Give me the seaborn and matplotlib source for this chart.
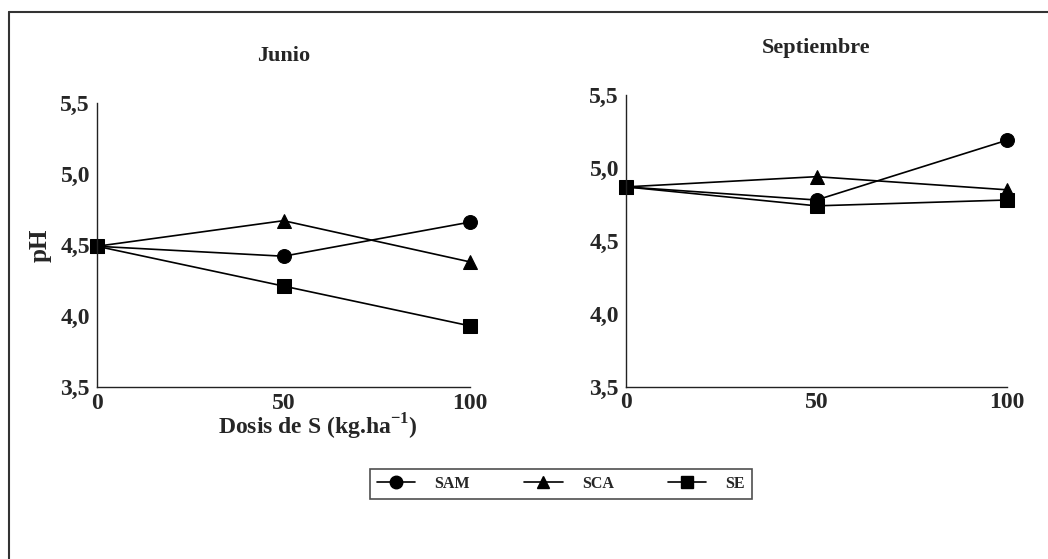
import matplotlib
matplotlib.use("Agg")
import matplotlib.pyplot as plt
import seaborn as sns
import pandas as pd
from matplotlib.lines import Line2D

sns.set_style("white")
plt.rcParams['font.family'] = ['Liberation Serif', 'DejaVu Serif']
plt.rcParams['font.weight'] = 'bold'
plt.rcParams['mathtext.fontset'] = 'custom'
plt.rcParams['mathtext.rm'] = 'Liberation Serif:bold'
plt.rcParams['mathtext.bf'] = 'Liberation Serif:bold'

dosis = [0, 50, 100]
series = ["SAM", "SCA", "SE"]
junio_sam = [4.49, 4.42, 4.66]
junio_sca = [4.49, 4.67, 4.38]
junio_se = [4.49, 4.21, 3.93]
sept_sam = [4.87, 4.78, 5.19]
sept_sca = [4.87, 4.94, 4.85]
sept_se = [4.87, 4.74, 4.78]
yticks = [3.5, 4.0, 4.5, 5.0, 5.5]
ytick_labels = ["3,5", "4,0", "4,5", "5,0", "5,5"]
xticks = [0, 50, 100]

def make_df(sam, sca, se):
    rows = []
    for name, vals in zip(series, [sam, sca, se]):
        for d, v in zip(dosis, vals):
            rows.append({"Dosis": d, "pH": v, "Serie": name})
    return pd.DataFrame(rows)

df_j = make_df(junio_sam, junio_sca, junio_se)
df_s = make_df(sept_sam, sept_sca, sept_se)

W, H = 1048, 559
fig = plt.figure(figsize=(W / 100, H / 100), dpi=100)

def px_axes(x0, y0, x1, y1):
    return fig.add_axes([x0 / W, 1 - y1 / H, (x1 - x0) / W, (y1 - y0) / H])

ax1 = px_axes(97, 102.7, 470, 387)
ax2 = px_axes(626, 95, 1007, 386.7)

markers = {"SAM": "o", "SCA": "^", "SE": "s"}
palette = {"SAM": "black", "SCA": "black", "SE": "black"}

for ax, df in [(ax1, df_j), (ax2, df_s)]:
    sns.lineplot(data=df, x="Dosis", y="pH", hue="Serie", style="Serie",
                 markers=markers, dashes=False, palette=palette, ax=ax,
                 markersize=10, linewidth=1.2, markeredgecolor="black",
                 legend=False, clip_on=False)
    ax.set_xlim(0, 100)
    ax.set_ylim(3.5, 5.5)
    ax.set_xticks(xticks)
    ax.set_xticklabels([str(x) for x in xticks], fontsize=17, fontweight='bold')
    ax.set_yticks(yticks)
    ax.set_yticklabels(ytick_labels, fontsize=17, fontweight='bold')
    for s in ["top", "right"]:
        ax.spines[s].set_visible(False)
    for s in ["left", "bottom"]:
        ax.spines[s].set_color("#222222")
        ax.spines[s].set_linewidth(1.0)
    ax.tick_params(axis="both", direction="out", length=4, width=1, color="#222222", pad=1)
    ax.tick_params(axis="x", pad=0)
    ax.set_xlabel("")
    ax.set_ylabel("")

ax1.set_title("Junio", fontsize=16, fontweight='bold', pad=30)
ax2.set_title("Septiembre", fontsize=16, fontweight='bold', pad=30)
ax1.set_ylabel("pH", fontsize=18, fontweight='bold', labelpad=6)
ax1.set_xlabel("Dosis de S (kg.ha$^{-1}$)", fontsize=17, fontweight='bold')
ax1.xaxis.set_label_coords((318 - 97) / 373, -0.088)

handles = [Line2D([0], [0], color="black", marker=markers[s], markersize=9, linewidth=1.2)
           for s in series]
leg = fig.legend(handles, series, loc="center", bbox_to_anchor=(561 / W, 1 - 484 / H),
                 ncol=3, frameon=True, fancybox=False, columnspacing=3.4,
                 handlelength=2.4, handletextpad=1.2, borderpad=0.45, numpoints=1,
                 prop={'weight': 'bold', 'size': 11.5, 'family': 'Liberation Serif'})
leg.get_frame().set_edgecolor("#222222")
leg.get_frame().set_linewidth(1.2)

# Partial page frame (top and left)
fig.add_artist(Line2D([8.5 / W, 8.5 / W], [0, 1 - 11.5 / H], transform=fig.transFigure,
                      color="#333333", linewidth=1.5))
fig.add_artist(Line2D([8.5 / W, 1], [1 - 11.5 / H, 1 - 11.5 / H], transform=fig.transFigure,
                      color="#333333", linewidth=1.5))

fig.savefig("out.png", dpi=100, facecolor="white")
